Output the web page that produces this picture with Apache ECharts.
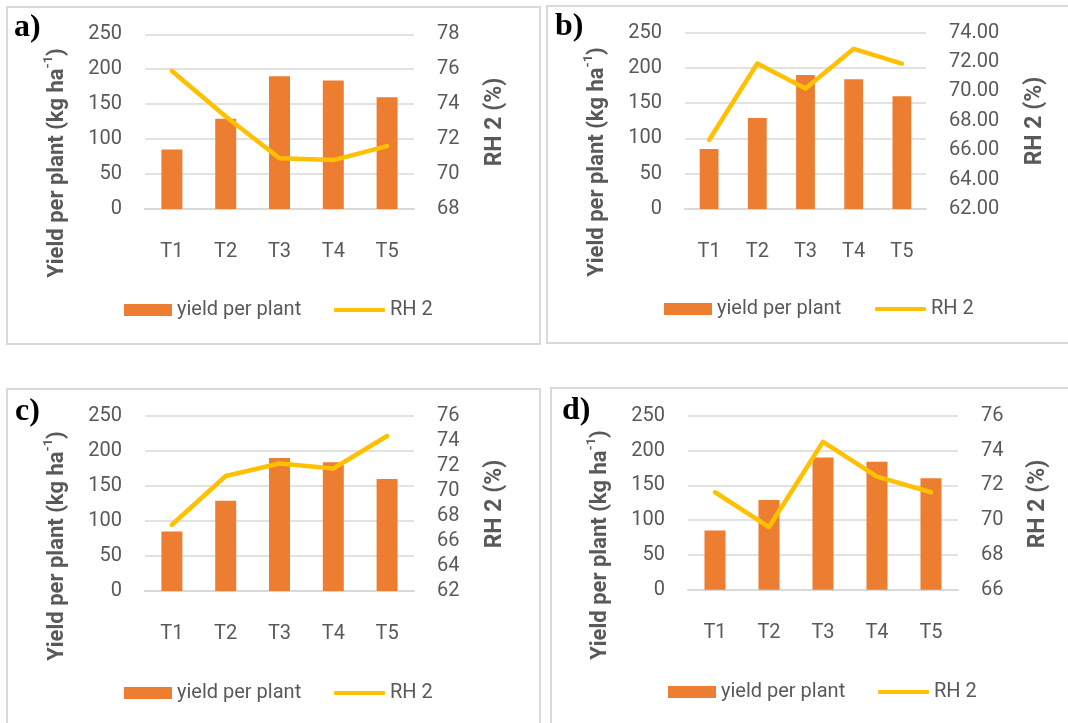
<!DOCTYPE html>
<html>
<head>
<meta charset="utf-8">
<script src="https://cdn.jsdelivr.net/npm/echarts@6/dist/echarts.min.js"></script>
<style>
html,body{margin:0;padding:0;background:#fff;}
#c{width:1068px;height:723px;}
</style>
</head>
<body>
<div id="c"></div>
<script>
// ---- data ----
const categories = ['T1', 'T2', 'T3', 'T4', 'T5'];
const yieldPerPlant = [85, 129, 190, 184, 160];
const rhA = [75.9, 73.3, 70.9, 70.8, 71.6];
const rhB = [66.7, 71.9, 70.2, 72.9, 71.9];
const rhC = [67.3, 71.2, 72.2, 71.8, 74.4];
const rhD = [71.6, 69.6, 74.5, 72.5, 71.6];
const leftTicks = {min: 0, max: 250, interval: 50};
const rightTicksA = {min: 68, max: 78, interval: 2};
const rightTicksB = {min: 62, max: 74, interval: 2};
const rightTicksC = {min: 62, max: 76, interval: 2};
const rightTicksD = {min: 66, max: 76, interval: 2};
const panelLabels = ['a)', 'b)', 'c)', 'd)'];
const seriesNames = ['yield per plant', 'RH 2'];
const leftTitle = 'Yield per plant (kg ha';
const rightTitle = 'RH 2 (%)';

// ---- layout ----
const FONT = 'Roboto';
const TXT = '#595959';
const GRID = '#D9D9D9';
const panels = [
  {grid: {left: 145, top: 34.3, width: 269, height: 174.7}, rh: rhA, rt: rightTicksA, dec: 0,
   border: [7, 7, 533, 337], label: [14, 28], lt: [55, 163], rtPos: [495, 122], legend: [124, 310], legend2: 334},
  {grid: {left: 685, top: 32.7, width: 241, height: 176.3}, rh: rhB, rt: rightTicksB, dec: 2,
   border: [547, 6, 530, 337], label: [555, 27], lt: [595, 162], rtPos: [1035, 121], legend: [664, 309], legend2: 875},
  {grid: {left: 145, top: 416, width: 269, height: 175}, rh: rhC, rt: rightTicksC, dec: 0,
   border: [7, 389, 533, 345], label: [15, 412], lt: [55, 546], rtPos: [495, 504], legend: [124, 693], legend2: 334},
  {grid: {left: 688, top: 415.7, width: 270, height: 174}, rh: rhD, rt: rightTicksD, dec: 0,
   border: [551, 388, 530, 345], label: [562, 411], lt: [598, 545], rtPos: [1038, 504], legend: [668, 692], legend2: 878}
];

const grids = [], xAxes = [], yAxes = [], series = [], legends = [], graphics = [];
panels.forEach((p, i) => {
  grids.push(Object.assign({containLabel: false}, p.grid));
  xAxes.push({
    type: 'category', gridIndex: i, data: categories,
    axisLine: {lineStyle: {color: GRID, width: 2}}, axisTick: {show: false},
    axisLabel: {color: TXT, fontFamily: FONT, fontSize: 20, margin: 33}
  });
  yAxes.push({
    type: 'value', gridIndex: i, position: 'left',
    min: leftTicks.min, max: leftTicks.max, interval: leftTicks.interval,
    axisLine: {show: false}, axisTick: {show: false},
    axisLabel: {color: TXT, fontFamily: FONT, fontSize: 20, margin: 23},
    splitLine: {lineStyle: {color: GRID, width: 1.5}}
  });
  yAxes.push({
    type: 'value', gridIndex: i, position: 'right',
    min: p.rt.min, max: p.rt.max, interval: p.rt.interval,
    axisLine: {show: false}, axisTick: {show: false},
    axisLabel: {color: TXT, fontFamily: FONT, fontSize: 20, margin: 23,
      formatter: v => v.toFixed(p.dec)},
    splitLine: {show: false}
  });
  series.push({
    name: seriesNames[0], type: 'bar', xAxisIndex: i, yAxisIndex: i * 2,
    data: yieldPerPlant, barWidth: '39%', itemStyle: {color: '#ED7D31'}
  });
  series.push({
    name: seriesNames[1], type: 'line', xAxisIndex: i, yAxisIndex: i * 2 + 1,
    data: p.rh, symbol: 'none', lineStyle: {color: '#FFC000', width: 4.5, cap: 'round', join: 'round'},
    itemStyle: {color: '#FFC000'}
  });
  legends.push({
    left: p.legend[0], top: p.legend[1] - 12, padding: 0, itemWidth: 48, itemHeight: 12,
    data: [{name: seriesNames[0], icon: 'rect'}],
    textStyle: {color: TXT, fontFamily: FONT, fontSize: 20, lineHeight: 24, padding: [0, 0, 0, 0]},
    selectedMode: false
  });
  legends.push({
    left: p.legend2, top: p.legend[1] - 12, padding: 0, itemWidth: 51, itemHeight: 4,
    data: [{name: seriesNames[1], icon: 'roundRect'}],
    itemStyle: {color: '#FFC000'},
    textStyle: {color: TXT, fontFamily: FONT, fontSize: 20, lineHeight: 24, padding: [0, 0, 0, 0]},
    selectedMode: false
  });
  const b = p.border;
  graphics.push({type: 'rect', shape: {x: b[0], y: b[1], width: b[2], height: b[3]},
    style: {fill: 'none', stroke: GRID, lineWidth: 2}, silent: true});
  graphics.push({type: 'text', x: p.label[0], y: p.label[1],
    style: {text: panelLabels[i], font: 'bold 32px "Liberation Serif", "Times New Roman", serif',
      fill: '#000', textVerticalAlign: 'middle', verticalAlign: 'middle'}});
  graphics.push({type: 'text', x: p.lt[0], y: p.lt[1], rotation: Math.PI / 2,
    style: {
      text: '{m|' + leftTitle + '}{s|-1}{m|)}',
      rich: {
        m: {font: 'bold 22px ' + FONT, fill: TXT, lineHeight: 26, verticalAlign: 'bottom'},
        s: {font: 'bold 13px ' + FONT, fill: TXT, lineHeight: 26, verticalAlign: 'top'}
      },
      align: 'center', verticalAlign: 'middle', textAlign: 'center', textVerticalAlign: 'middle'
    }});
  graphics.push({type: 'text', x: p.rtPos[0], y: p.rtPos[1], rotation: Math.PI / 2,
    style: {text: rightTitle, font: 'bold 23px ' + FONT, fill: TXT,
      align: 'center', verticalAlign: 'middle', textAlign: 'center', textVerticalAlign: 'middle'}});
});

const chart = echarts.init(document.getElementById('c'), null, {renderer: 'canvas'});
chart.setOption({
  backgroundColor: '#fff',
  animation: false,
  grid: grids, xAxis: xAxes, yAxis: yAxes, series: series, legend: legends,
  graphic: graphics
});
</script>
</body>
</html>
